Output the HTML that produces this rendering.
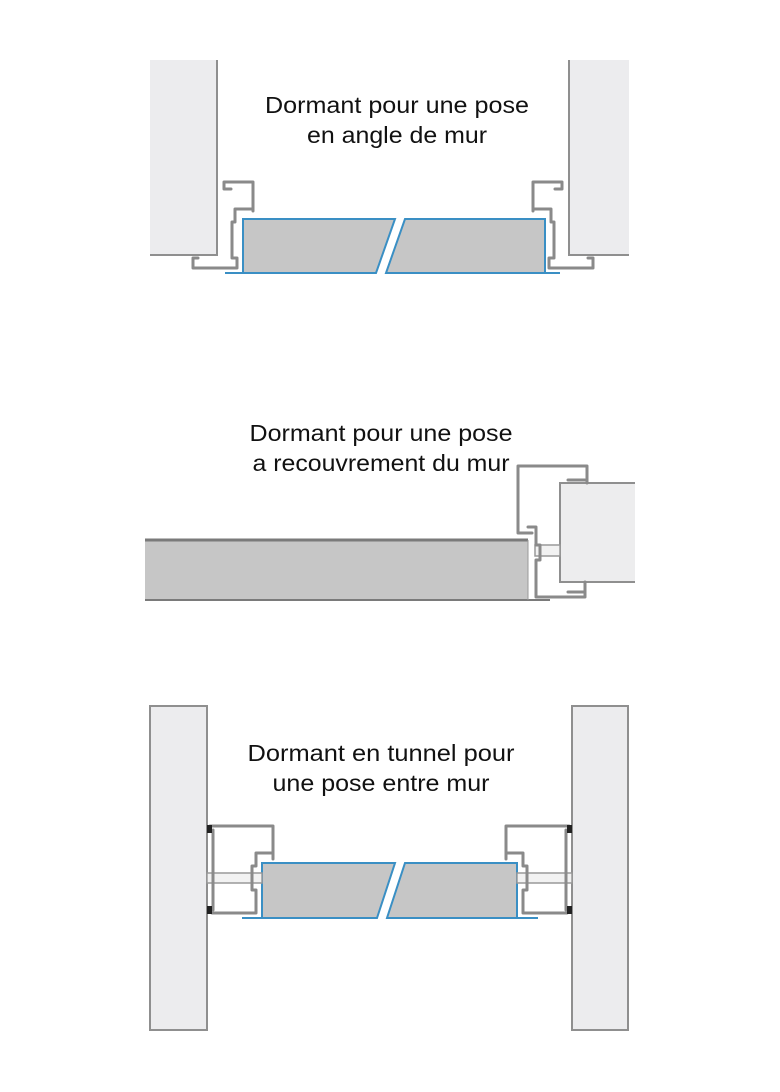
<!DOCTYPE html>
<html><head><meta charset="utf-8"><style>
html,body{margin:0;padding:0;background:#fff;}
svg{display:block}
text{font-family:"Liberation Sans","DejaVu Sans",sans-serif;font-size:23px;fill:#111;}
.p{fill:none;stroke:#8a8a8a;stroke-width:3;stroke-linejoin:round;stroke-linecap:round}
.w{fill:#ececee;stroke:#8f8f8f;stroke-width:2}
.g{fill:#c6c6c6;stroke:#3a8fc4;stroke-width:2}
.b{stroke:#3a8fc4;stroke-width:2}
</style></head><body>
<svg width="780" height="1092" viewBox="0 0 780 1092" xmlns="http://www.w3.org/2000/svg">
<!-- Section 1 -->
<rect x="150" y="60" width="67" height="195" style="fill:#ececee;stroke:none"/>
<path d="M217 60 V255 H150" fill="none" stroke="#8f8f8f" stroke-width="2"/>
<rect x="569" y="60" width="60" height="195" style="fill:#ececee;stroke:none"/>
<path d="M569 60 V255 H629" fill="none" stroke="#8f8f8f" stroke-width="2"/>
<polygon points="243,219 395,219 376,273 243,273" class="g"/>
<polygon points="405,219 545,219 545,273 386,273" class="g"/>
<line x1="225" y1="273" x2="376" y2="273" class="b"/>
<line x1="386" y1="273" x2="560" y2="273" class="b"/>
<path class="p" d="M231 189 H224 V182 H253 V211 M253 209 H235 V222 H232 V258 H237 V268 H193 V258 H198"/>
<path class="p" d="M555 189 H562 V182 H533 V211 M533 209 H551 V222 H554 V258 H549 V268 H593 V258 H588"/>
<text x="397" y="113" text-anchor="middle" textLength="264" lengthAdjust="spacingAndGlyphs">Dormant pour une pose</text>
<text x="397" y="143" text-anchor="middle" textLength="180" lengthAdjust="spacingAndGlyphs">en angle de mur</text>
<!-- Section 2 -->
<rect x="145" y="540" width="383" height="60" fill="#c6c6c6"/>
<line x1="145" y1="540" x2="528" y2="540" stroke="#7a7a7a" stroke-width="3"/>
<line x1="145" y1="600" x2="550" y2="600" stroke="#7a7a7a" stroke-width="2"/>
<line x1="528" y1="540" x2="528" y2="600" stroke="#9a9a9a" stroke-width="1"/>
<rect x="560" y="483" width="75" height="99" fill="#ededee"/>
<path d="M635 483 H560 V582 H635" fill="none" stroke="#8f8f8f" stroke-width="2"/>
<rect x="535" y="545" width="25" height="11" fill="#f2f2f2" stroke="#999" stroke-width="1.5"/>
<path class="p" d="M532 533 H518 V466 H587 V483 M568 480 H585 M568 592 H585 M585 582 V597 H536 V560 H540 V545 H536 V527 H528"/>
<text x="381" y="441" text-anchor="middle" textLength="263" lengthAdjust="spacingAndGlyphs">Dormant pour une pose</text>
<text x="381" y="471" text-anchor="middle" textLength="257" lengthAdjust="spacingAndGlyphs">a recouvrement du mur</text>
<!-- Section 3 -->
<rect x="150" y="706" width="57" height="324" class="w"/>
<rect x="572" y="706" width="56" height="324" class="w"/>
<polygon points="262,863 395,863 377,918 262,918" class="g"/>
<polygon points="405,863 517,863 517,918 387,918" class="g"/>
<line x1="242" y1="918" x2="377" y2="918" class="b"/>
<line x1="387" y1="918" x2="538" y2="918" class="b"/>
<rect x="207" y="873" width="55" height="10" fill="#f2f2f2" stroke="#999" stroke-width="1.5"/>
<rect x="517" y="873" width="55" height="10" fill="#f2f2f2" stroke="#999" stroke-width="1.5"/>
<path class="p" d="M210 826 H273 V859 M272 853 H256 V866 H252 V890 H256 V913 H212 M213 830 V910"/>
<path class="p" d="M569 826 H506 V859 M507 853 H523 V866 H527 V890 H523 V913 H567 M566 830 V910"/>
<rect x="207" y="825" width="5" height="8" fill="#222"/>
<rect x="207" y="906" width="5" height="8" fill="#222"/>
<rect x="567" y="825" width="5" height="8" fill="#222"/>
<rect x="567" y="906" width="5" height="8" fill="#222"/>
<text x="381" y="761" text-anchor="middle" textLength="267" lengthAdjust="spacingAndGlyphs">Dormant en tunnel pour</text>
<text x="381" y="791" text-anchor="middle" textLength="217" lengthAdjust="spacingAndGlyphs">une pose entre mur</text>
</svg>
</body></html>
